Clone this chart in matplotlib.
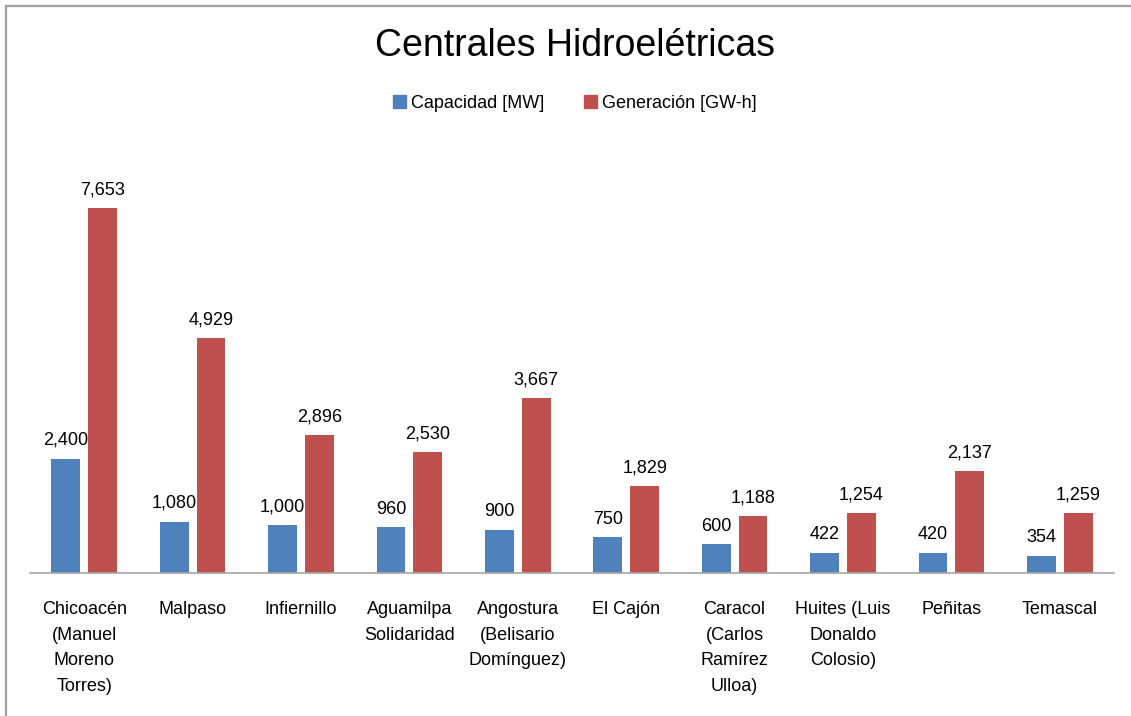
import numpy as np
import matplotlib
matplotlib.use("Agg")
import matplotlib.pyplot as plt
from matplotlib import font_manager
from matplotlib.lines import Line2D
from matplotlib.patches import Patch

# data
centrales = [
    "Chicoacén\n(Manuel\nMoreno\nTorres)",
    "Malpaso",
    "Infiernillo",
    "Aguamilpa\nSolidaridad",
    "Angostura\n(Belisario\nDomínguez)",
    "El Cajón",
    "Caracol\n(Carlos\nRamírez\nUlloa)",
    "Huites (Luis\nDonaldo\nColosio)",
    "Peñitas",
    "Temascal",
]
capacidad_mw = [2400, 1080, 1000, 960, 900, 750, 600, 422, 420, 354]
generacion_gwh = [7653, 4929, 2896, 2530, 3667, 1829, 1188, 1254, 2137, 1259]

BLUE = "#4F81BD"
RED = "#C0504D"

# pick a narrow font if there is one
available = {f.name for f in font_manager.fontManager.ttflist}
font = "DejaVu Sans"
for name in ["Liberation Sans Narrow", "Liberation Sans", "Roboto"]:
    if name in available:
        font = name
        break
plt.rcParams["font.family"] = [font, "DejaVu Sans"]

W, H = 1131, 716
fig = plt.figure(figsize=(W / 100, H / 100), dpi=100)

# axes box in pixels
left, right, base = 30, 1114, 573
ymax = 9000
px_per_unit = (573 - 208.3) / 7653
top = base - ymax * px_per_unit
ax = fig.add_axes([left / W, 1 - base / H, (right - left) / W, (base - top) / H])

x = np.arange(len(centrales))
bw = 0.265
off = 0.17
b1 = ax.bar(x - off, capacidad_mw, bw, color=BLUE, label="Capacidad [MW]")
b2 = ax.bar(x + off, generacion_gwh, bw, color=RED, label="Generación [GW-h]")

for bars, vals in [(b1, capacidad_mw), (b2, generacion_gwh)]:
    for r, v in zip(bars, vals):
        ax.annotate(f"{v:,}", (r.get_x() + r.get_width() / 2, v),
                    xytext=(0, 7), textcoords="offset points",
                    ha="center", va="bottom", fontsize=13)

ax.set_xlim(-0.5, len(centrales) - 0.5)
ax.set_ylim(0, ymax)
ax.set_xticks(x)
ax.set_xticklabels(centrales, fontsize=13, linespacing=1.68, va="top")
ax.tick_params(axis="x", length=0, pad=20)
ax.set_yticks([])
for s in ["top", "right", "left"]:
    ax.spines[s].set_visible(False)
ax.spines["bottom"].set_color("#A6A6A6")
ax.spines["bottom"].set_linewidth(1.2)

fig.text(575 / W, 1 - 46 / H, "Centrales Hidroelétricas", ha="center", va="center",
         fontsize=27)

handles = [Patch(color=BLUE, label="Capacidad [MW]"),
           Patch(color=RED, label="Generación [GW-h]")]
fig.legend(handles=handles, loc="center", bbox_to_anchor=(575 / W, 1 - 103 / H),
           ncol=2, frameon=False, fontsize=13, handlelength=0.7, handleheight=0.7,
           handletextpad=0.3, columnspacing=2.2)

# cropped border, top and left only
fig.add_artist(Line2D([6 / W, 1], [1 - 6 / H, 1 - 6 / H], color="#A0A0A0", lw=1.6,
                      transform=fig.transFigure))
fig.add_artist(Line2D([6 / W, 6 / W], [0, 1 - 6 / H], color="#A0A0A0", lw=1.6,
                      transform=fig.transFigure))

fig.savefig("out.png", dpi=100)
